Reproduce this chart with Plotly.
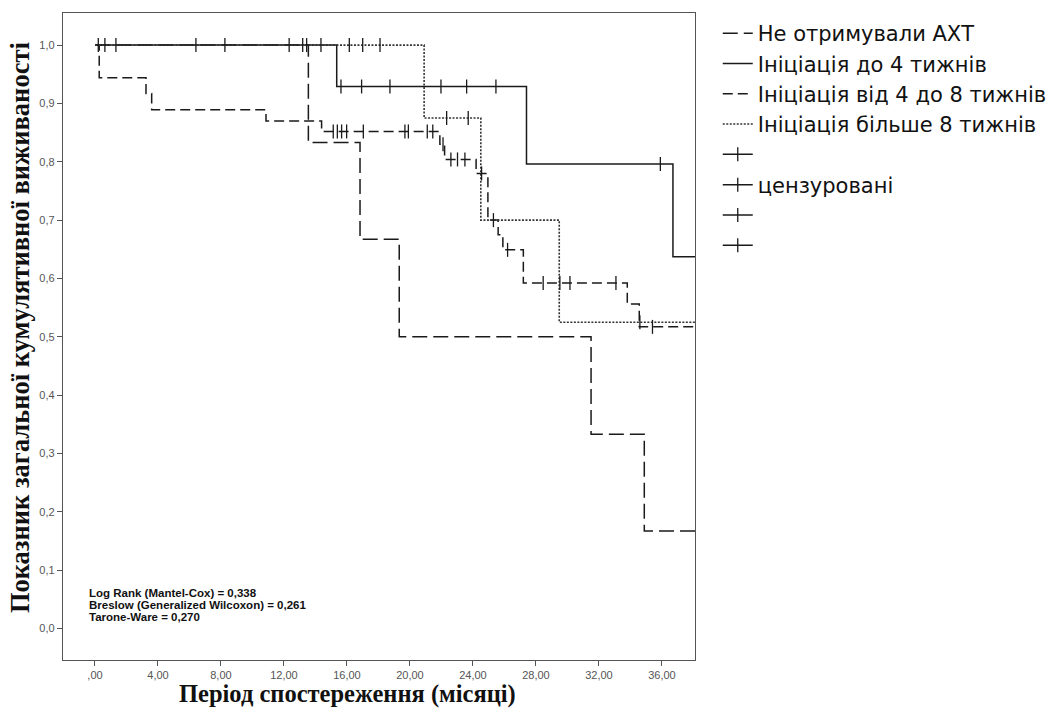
import plotly.graph_objects as go

# ---------------- data ----------------
group_names = ["Не отримували АХТ", "Ініціація до 4 тижнів",
               "Ініціація від 4 до 8 тижнів", "Ініціація більше 8 тижнів"]

# Не отримували АХТ
g1_event_times = [13.55, 16.83, 19.32, 31.5, 34.88]
g1_surv = [0.833, 0.667, 0.500, 0.333, 0.167]
g1_censor = [12.33]

# Ініціація до 4 тижнів
g2_event_times = [15.35, 27.4, 36.7]
g2_surv = [0.929, 0.796, 0.637]
g2_censor = [0.21, 0.63, 1.33, 6.41, 8.25, 13.19, 15.62, 16.93, 18.73,
             21.97, 23.6, 25.46, 35.9]

# Ініціація від 4 до 8 тижнів
g3_event_times = [0.27, 3.24, 3.6, 10.86, 14.39, 21.9, 22.2, 24.2, 24.95,
                  25.6, 25.9, 27.2, 33.8, 34.56]
g3_surv = [0.944, 0.917, 0.889, 0.870, 0.852, 0.830, 0.804, 0.780, 0.700,
           0.675, 0.649, 0.592, 0.556, 0.517]
g3_censor = [15.13, 15.39, 15.66, 15.98, 17.04, 19.68, 19.9, 21.1, 21.45,
             22.1, 22.6, 23.02, 23.49, 24.55, 25.3, 26.2, 28.46, 29.52,
             30.16, 33.08, 35.4]

# Ініціація більше 8 тижнів
g4_event_times = [20.9, 24.5, 29.48]
g4_surv = [0.875, 0.700, 0.525]
g4_censor = [13.44, 14.35, 16.15, 17.0, 18.1, 22.33, 23.7, 34.6]

follow_up_end = 38.6

x_tick_vals = [0, 4, 8, 12, 16, 20, 24, 28, 32, 36]
x_tick_text = [",00", "4,00", "8,00", "12,00", "16,00", "20,00", "24,00",
               "28,00", "32,00", "36,00"]
y_tick_vals = [0.0, 0.1, 0.2, 0.3, 0.4, 0.5, 0.6, 0.7, 0.8, 0.9, 1.0]
y_tick_text = ["0,0", "0,1", "0,2", "0,3", "0,4", "0,5", "0,6", "0,7",
               "0,8", "0,9", "1,0"]

stats_lines = ["Log Rank (Mantel-Cox) = 0,338",
               "Breslow (Generalized Wilcoxon) = 0,261",
               "Tarone-Ware = 0,270"]
censor_label = "цензуровані"
x_title = "Період спостереження (місяці)"
y_title = "Показник загальної кумулятивної виживаності"

groups = [
    (g1_event_times, g1_surv, g1_censor),
    (g2_event_times, g2_surv, g2_censor),
    (g3_event_times, g3_surv, g3_censor),
    (g4_event_times, g4_surv, g4_censor),
]
line_styles = [
    dict(color="#1a1a1a", width=1.5, dash="15px,6px"),
    dict(color="#1a1a1a", width=1.5, dash="solid"),
    dict(color="#1a1a1a", width=1.5, dash="10px,5px"),
    dict(color="#333333", width=1.6, dash="2px,1.5px"),
]


def surv_at(t, times, surv):
    s = 1.0
    for tt, ss in zip(times, surv):
        if tt <= t:
            s = ss
    return s


fig = go.Figure()

for (times, surv, _), name, st in zip(groups, group_names, line_styles):
    fig.add_trace(go.Scatter(
        x=[0] + times + [follow_up_end],
        y=[1.0] + surv + [surv[-1]],
        mode="lines", line=dict(shape="hv", **st),
        name=name, showlegend=True, hoverinfo="skip"))

censor_names = ["", censor_label, "", ""]
for (times, surv, cens), cname in zip(groups, censor_names):
    xs, ys = [], []
    for c in cens:
        xs += [c, None]
        ys += [surv_at(c, times, surv), None]
    fig.add_trace(go.Scatter(
        x=xs, y=ys, mode="lines+markers",
        line=dict(color="#1a1a1a", width=1.5),
        marker=dict(symbol="line-ns", size=10,
                    line=dict(color="#1a1a1a", width=1.3)),
        name=cname, showlegend=True, connectgaps=False, hoverinfo="skip"))

axis_common = dict(showline=True, mirror=True, linecolor="#555555",
                   linewidth=1.3, ticks="outside", ticklen=5,
                   tickcolor="#555555", showgrid=False, zeroline=False,
                   tickfont=dict(family="Liberation Sans", size=11,
                                 color="#555555"))

fig.update_layout(
    width=1057, height=710,
    margin=dict(l=63, r=362, t=13, b=50, autoexpand=False),
    paper_bgcolor="white", plot_bgcolor="white",
    xaxis=dict(range=[-2.03, 38.1], tickvals=x_tick_vals,
               ticktext=x_tick_text, **axis_common),
    yaxis=dict(range=[-0.054, 1.055], tickvals=y_tick_vals,
               ticktext=y_tick_text, **axis_common),
    legend=dict(x=1.036, xanchor="left", y=1.0, yanchor="top",
                font=dict(family="DejaVu Sans", size=21, color="#111111"),
                bgcolor="rgba(0,0,0,0)", tracegroupgap=0,
                itemsizing="trace"),
    showlegend=True,
)

# axis titles
fig.add_annotation(text=x_title, xref="paper", yref="paper",
                   x=0.45, y=-0.053, xanchor="center", yanchor="middle",
                   showarrow=False,
                   font=dict(family="Liberation Serif", size=24.5,
                             color="#111111", weight="bold"))
fig.add_annotation(text=y_title, xref="paper", yref="paper",
                   x=-0.068, y=0.513, xanchor="center", yanchor="middle",
                   textangle=-90, showarrow=False,
                   font=dict(family="Liberation Serif", size=26.5,
                             color="#111111", weight="bold"))

# statistics text
stat_y = [0.1036, 0.085, 0.0665]
for line, yy in zip(stats_lines, stat_y):
    fig.add_annotation(text=line, xref="paper", yref="paper",
                       x=0.038, y=yy, xanchor="left", yanchor="middle",
                       showarrow=False,
                       font=dict(family="Liberation Sans", size=11.5,
                                 color="#111111", weight="bold"))

fig.write_html("out.html")
